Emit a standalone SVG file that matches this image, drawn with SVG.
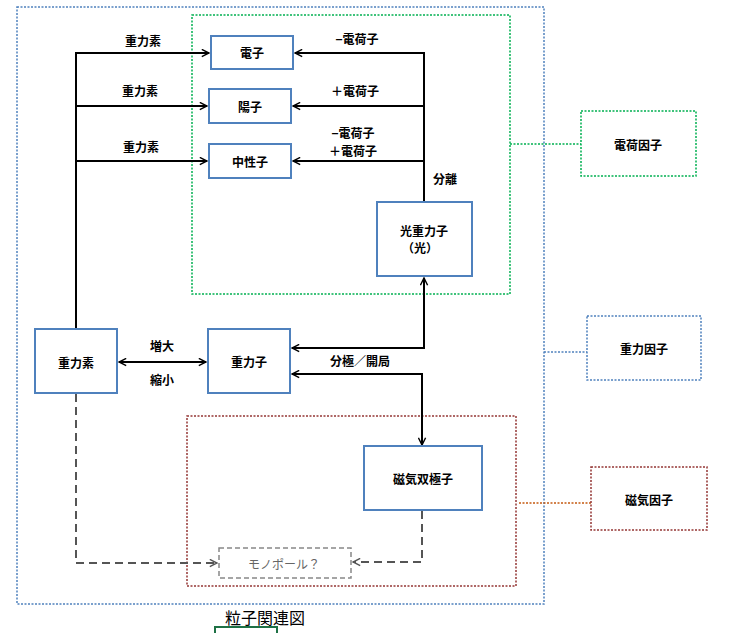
<svg xmlns="http://www.w3.org/2000/svg" width="733" height="633" viewBox="0 0 733 633">
<style>
text{font-family:"Noto Sans CJK JP","Noto Sans CJK SC",sans-serif;font-size:12px;font-weight:bold;fill:#000;text-anchor:middle;dominant-baseline:central}
.n{fill:#fff;stroke:#4f81bd;stroke-width:2}
.c{fill:none;stroke:#000;stroke-width:2}
.d{fill:none;stroke:#555;stroke-width:2;stroke-dasharray:8,5}
.g{fill:none;stroke-width:1.5;stroke-dasharray:2,1.5}
</style>
<defs>
<marker id="a" viewBox="0 0 10 10" refX="9" refY="5" markerWidth="9" markerHeight="9" markerUnits="userSpaceOnUse" orient="auto-start-reverse"><path d="M1,1 L9,5 L1,9" fill="none" stroke="#000" stroke-width="1.6"/></marker>
<marker id="ag" viewBox="0 0 10 10" refX="9" refY="5" markerWidth="9" markerHeight="9" markerUnits="userSpaceOnUse" orient="auto"><path d="M1,1 L9,5 L1,9" fill="none" stroke="#555" stroke-width="1.6"/></marker>
</defs>
<g id="groups">
<rect x="17" y="7" width="527" height="597" class="g" stroke="#4f81bd"/>
<rect x="192" y="15" width="318" height="279" class="g" stroke="#00b050"/>
<rect x="187" y="416" width="329" height="170" class="g" stroke="#943634"/>
</g>
<g id="connectors">
<path class="c" d="M76,329 V53 H209" marker-end="url(#a)"/>
<path class="c" d="M76,106 H207" marker-end="url(#a)"/>
<path class="c" d="M76,161 H207" marker-end="url(#a)"/>
<path class="c" d="M424,202 V53 H295" marker-end="url(#a)"/>
<path class="c" d="M424,106 H293" marker-end="url(#a)"/>
<path class="c" d="M424,161 H293" marker-end="url(#a)"/>
<path class="c" d="M119,362 H206" marker-start="url(#a)" marker-end="url(#a)"/>
<path class="c" d="M292,348 H424 V278" marker-start="url(#a)" marker-end="url(#a)"/>
<path class="c" d="M292,374 H422 V445" marker-start="url(#a)" marker-end="url(#a)"/>
<path class="d" d="M76,394 V563 H217" marker-end="url(#ag)"/>
<path class="d" d="M422,511 V562 H353" marker-end="url(#ag)"/>
<path class="g" stroke="#00b050" d="M510,144 H581"/>
<path class="g" stroke="#4f81bd" d="M544,352 H587"/>
<path class="g" stroke="#c0504d" stroke-width="2" style="stroke:#c55a11" d="M519,503 H591"/>
<text x="143" y="40">重力素</text>
<text x="140" y="90">重力素</text>
<text x="141" y="146">重力素</text>
<text x="357" y="38">−電荷子</text>
<text x="355" y="90">＋電荷子</text>
<text x="353" y="132">−電荷子</text>
<text x="353" y="150">＋電荷子</text>
<text x="445" y="178">分離</text>
<text x="162" y="345">増大</text>
<text x="162" y="379">縮小</text>
<text x="360" y="360">分極／開局</text>
</g>
<g id="n1"><rect class="n" x="211" y="36" width="82" height="33"/><text x="252" y="52">電子</text></g>
<g id="n2"><rect class="n" x="209" y="89" width="82" height="34"/><text x="250" y="106">陽子</text></g>
<g id="n3"><rect class="n" x="209" y="144" width="82" height="34"/><text x="250" y="161">中性子</text></g>
<g id="n4"><rect class="n" x="377" y="202" width="95" height="74"/><text x="424" y="230">光重力子</text><text x="420" y="247">（光）</text></g>
<g id="n5"><rect class="n" x="35" y="329" width="82" height="64"/><text x="76" y="362">重力素</text></g>
<g id="n6"><rect class="n" x="208" y="329" width="82" height="64"/><text x="249" y="361">重力子</text></g>
<g id="n7"><rect class="n" x="364" y="446" width="118" height="64"/><text x="423" y="478">磁気双極子</text></g>
<g id="n8"><rect x="219" y="548" width="132" height="30" fill="#fff" stroke="#888" stroke-width="1.5" stroke-dasharray="5,3"/><text x="284" y="563" style="fill:#666;font-weight:normal">モノポール？</text></g>
<g id="n9"><rect x="581" y="111" width="115" height="65" fill="#fff" stroke="#00b050" class="g"/><text x="638" y="144">電荷因子</text></g>
<g id="n10"><rect x="587" y="316" width="114" height="64" fill="#fff" stroke="#4f81bd" class="g"/><text x="644" y="348">重力因子</text></g>
<g id="n11"><rect x="591" y="467" width="116" height="63" fill="#fff" stroke="#943634" class="g"/><text x="649" y="499">磁気因子</text></g>
<g id="title"><text x="265" y="617" style="font-size:16px;font-weight:normal">粒子関連図</text><path d="M215,633 V627 H277 V633" fill="none" stroke="#1e7145" stroke-width="2"/></g>
</svg>
